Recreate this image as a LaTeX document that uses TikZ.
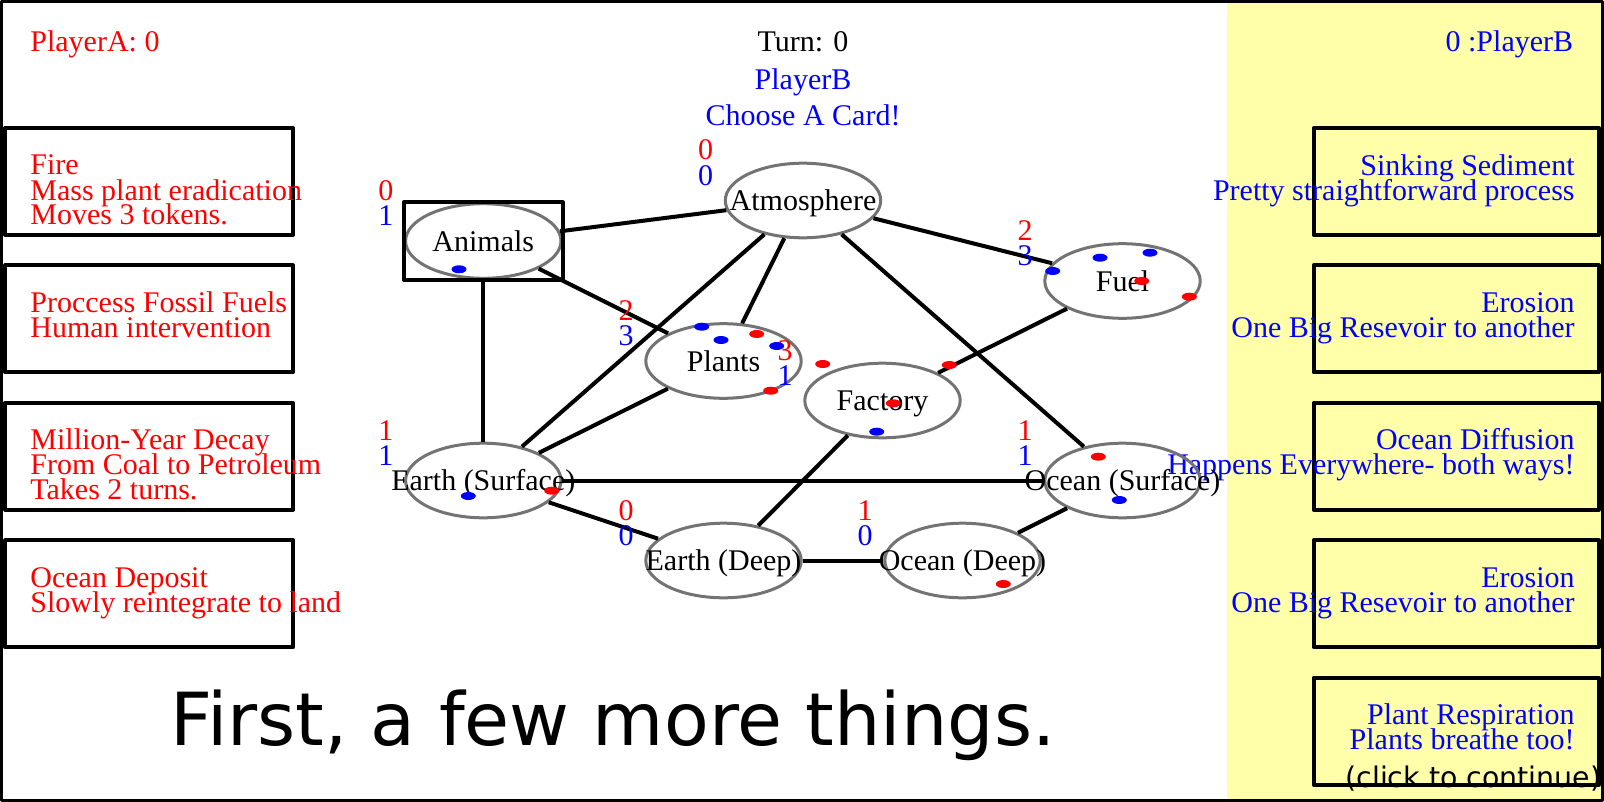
\documentclass[tikz,border=0pt]{standalone}
\usepackage{fontspec}
\setmainfont{Liberation Serif}
\newfontfamily\sansfont{DejaVu Sans}
\usetikzlibrary{calc,shapes.geometric}
\definecolor{panelyellow}{RGB}{255,255,170}
\newcommand\boardfont{\fontsize{15}{12.5}\selectfont\lineskiplimit=-20pt\relax}

\begin{document}
\begin{tikzpicture}[
    x=0.5pt, y=-0.5pt,
    line join=round,
    txt/.style={inner sep=0pt, font=\boardfont},
    redtxt/.style={txt, red},
    bluetxt/.style={txt, blue},
    restext/.style={txt, text height=10pt, text depth=0pt},
    res/.style={ellipse, draw=black!55, line width=1.5pt, inner sep=0pt,
      minimum width=77.7pt, minimum height=37.3pt},
    card/.style={line width=2pt},
    link/.style={line width=2pt},
    selbox/.style={line width=2pt}
  ]
\useasboundingbox (0,0) rectangle (1604,802);

% ============================================================
% BACKGROUND: white board, yellow panel of player B
% ============================================================
\fill[white] (0,0) rectangle (1604,802);
\fill[panelyellow] (1227,0) rectangle (1604,802);

% scores and turn
\node[redtxt, anchor=base west] (scoreA) at (30,51.7) {PlayerA: 0};
\node[txt, anchor=base] (turn) at (803,51.7) {Turn: 0};
\node[bluetxt, anchor=base] (player) at (803,89.3) {PlayerB};
\node[bluetxt, anchor=base] (prompt) at (803,126) {Choose A Card!};
\node[bluetxt, anchor=base east] (scoreB) at (1573.5,51.7) {0 :PlayerB};

% ============================================================
% CARDS: player A (left), player B (right)
% ============================================================
\foreach \i in {0,...,3}
  \draw[card] (5.3,{128+137.4*\i}) rectangle ++(287.7,107);
\foreach \i in {0,...,4}
  \draw[card] (1313.7,{128+137.4*\i}) rectangle ++(285,107);

% (base anchor of a multi-line node = its last line)
\foreach \i/\n/\t in {0/2/{Fire\\Mass plant eradication\\Moves 3 tokens.},
                      1/1/{Proccess Fossil Fuels\\Human intervention},
                      2/2/{Million-Year Decay\\From Coal to Petroleum\\Takes 2 turns.},
                      3/1/{Ocean Deposit\\Slowly reintegrate to land}}
  \node[redtxt, align=left, anchor=base west] (cardA\i) at (30,{175+137.4*\i+25*\n}) {\t};

\foreach \i/\t in {0/{Sinking Sediment\\Pretty straightforward process},
                   1/{Erosion\\One Big Resevoir to another},
                   2/{Ocean Diffusion\\Happens Everywhere- both ways!},
                   3/{Erosion\\One Big Resevoir to another},
                   4/{Plant Respiration\\Plants breathe too!}}
  \node[bluetxt, align=right, anchor=base east] (cardB\i) at (1575,{200+137.4*\i}) {\t};

% ============================================================
% BOARD: reservoirs and links
% ============================================================
\node[res, label={[restext]center:Atmosphere}] (atmo) at (803,200.5) {};
\node[res, label={[restext]center:Animals}] (animals) at (483.3,241) {};
\node[res, label={[restext]center:Fuel}] (fuel) at (1122.5,281) {};
\node[res, label={[restext]center:Plants}] (plants) at (723.5,361) {};
\node[res, label={[restext]center:Factory}] (factory) at (882.5,400.5) {};
\node[res, label={[restext]center:Earth (Surface)}] (esurf) at (483.3,480.5) {};
\node[res, label={[restext]center:Ocean (Surface)}] (osurf) at (1122.5,480.5) {};
\node[res, label={[restext]center:Earth (Deep)}] (edeep) at (723.5,560.5) {};
\node[res, label={[restext]center:Ocean (Deep)}] (odeep) at (962.5,560.5) {};

% selected reservoir
\draw[selbox] (animals.west |- animals.north) rectangle (animals.east |- animals.south);

\draw[link] (animals) -- (atmo);
\draw[link] (animals) -- (plants);
\draw[link] (animals) -- (esurf);
\draw[link] (atmo) -- (plants);
\draw[link] (atmo) -- (esurf);
\draw[link] (atmo) -- (osurf);
\draw[link] (atmo) -- (fuel);
\draw[link] (plants) -- (esurf);
\draw[link] (fuel) -- (factory);
\draw[link] (factory) -- (edeep);
\draw[link] (esurf) -- (osurf);
\draw[link] (esurf) -- (edeep);
\draw[link] (edeep) -- (odeep);
\draw[link] (odeep) -- (osurf);

% token counts, red above blue
\foreach \res/\r/\b in {atmo/0/0, animals/0/1, fuel/2/3, plants/2/3, factory/3/1,
                        esurf/1/1, osurf/1/1, edeep/0/0, odeep/1/0} {
  \node[redtxt, anchor=base] (\res-r) at ($(\res)+(-97.5,-40.5)$) {\r};
  \node[bluetxt, anchor=base] (\res-b) at ($(\res)+(-97.5,-15.5)$) {\b};
}

% tokens
\foreach \c/\px/\py in {blue/459/269.3,
    blue/1052.7/271, blue/1100/257.7, blue/1150/252.7, red/1141.7/281, red/1189.3/296.7,
    blue/701.7/326.7, blue/721/340, red/756.7/334, blue/776.7/346, red/770.7/390.7,
    red/822.7/364, red/949.3/365, red/893.3/403.3, blue/876.7/431.7,
    blue/468.3/496, red/551.7/490.7,
    red/1098.3/456.7, blue/1119.3/500,
    red/1003.3/584}
  \fill[\c] (\px,\py) ellipse [x radius=3.75pt, y radius=2pt];

% ============================================================
% MESSAGE
% ============================================================
\node[inner sep=0pt, anchor=base west, font=\sansfont\fontsize{36.6}{40}\selectfont]
  (msg) at (170,745) {First, a few more things.};
\node[inner sep=0pt, anchor=base east, font=\sansfont\fontsize{14.2}{16}\selectfont]
  (cont) at (1601.5,787) {(click to continue)};

% frame
\draw[line width=1.5pt] (1.5,1.5) rectangle (1602.5,800.5);
\end{tikzpicture}
\end{document}
